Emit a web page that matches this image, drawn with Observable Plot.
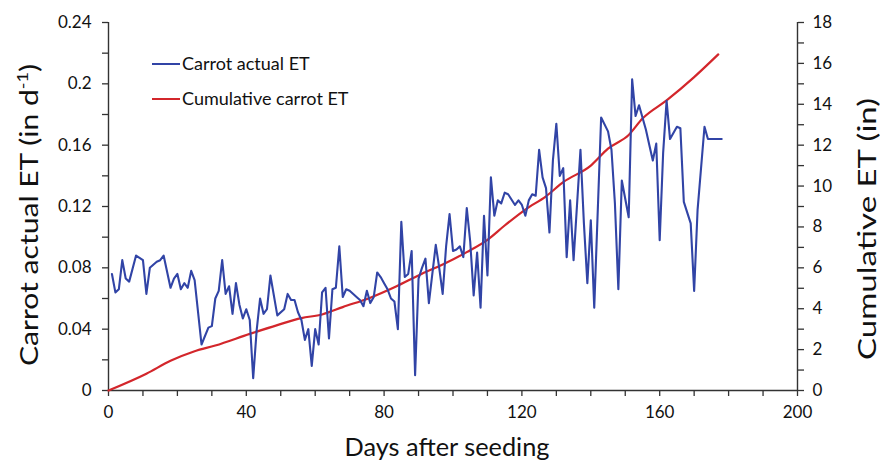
<!DOCTYPE html>
<html>
<head>
<meta charset="utf-8">
<script src="https://cdn.jsdelivr.net/npm/d3@7"></script>
<script src="https://cdn.jsdelivr.net/npm/@observablehq/plot@0.6"></script>
<style>
  html, body { margin: 0; padding: 0; background: #fff; }
  #chart svg { display: block; }
</style>
</head>
<body>
<div id="chart"></div>
<script>
// Daily carrot actual ET (in/day)
const etDays = [
  1, 2, 3, 4, 5, 6, 8, 10, 11, 12,
  14, 15, 16, 18, 19, 20, 21, 22, 23, 24,
  25, 27, 29, 30, 31, 32, 33, 34, 35, 36,
  37, 38, 39, 40, 41, 42, 43, 44, 45, 46,
  47, 49, 51, 52, 53, 54, 55, 56, 57, 58,
  59, 60, 61, 62, 63, 64, 65, 66, 67, 68,
  69, 70, 72, 73, 74, 75, 76, 77, 78, 79,
  80, 81, 82, 83, 84, 85, 86, 87, 88, 89,
  90, 91, 92, 93, 94, 95, 96, 97, 98, 99,
  100, 101, 102, 103, 104, 105, 106, 107, 108, 109,
  110, 111, 112, 113, 114, 115, 116, 118, 119, 120,
  121, 122, 123, 124, 125, 126, 127, 128, 129, 130,
  131, 132, 133, 134, 135, 137, 138, 139, 140, 141,
  143, 145, 146, 147, 148, 149, 151, 152, 153, 154,
  156, 157, 158, 159, 160, 161, 162, 163, 165, 166,
  167, 169, 170, 171, 173, 174, 178
];
const etValues = [
  0.076, 0.064, 0.066, 0.085, 0.073, 0.071, 0.088, 0.085, 0.063, 0.080,
  0.084, 0.085, 0.088, 0.067, 0.073, 0.076, 0.066, 0.070, 0.067, 0.078,
  0.072, 0.030, 0.041, 0.042, 0.060, 0.065, 0.085, 0.063, 0.068, 0.050,
  0.070, 0.056, 0.047, 0.053, 0.046, 0.008, 0.039, 0.060, 0.050, 0.053,
  0.075, 0.049, 0.053, 0.063, 0.059, 0.059, 0.051, 0.046, 0.033, 0.040,
  0.016, 0.040, 0.030, 0.064, 0.067, 0.034, 0.066, 0.067, 0.094, 0.061,
  0.066, 0.065, 0.061, 0.059, 0.055, 0.065, 0.057, 0.061, 0.077, 0.074,
  0.070, 0.066, 0.060, 0.058, 0.040, 0.110, 0.074, 0.076, 0.091, 0.010,
  0.073, 0.080, 0.086, 0.057, 0.076, 0.095, 0.080, 0.063, 0.094, 0.115,
  0.091, 0.092, 0.094, 0.087, 0.119, 0.097, 0.062, 0.090, 0.054, 0.114,
  0.075, 0.139, 0.114, 0.124, 0.122, 0.129, 0.128, 0.121, 0.124, 0.121,
  0.114, 0.124, 0.128, 0.127, 0.157, 0.139, 0.132, 0.103, 0.150, 0.174,
  0.140, 0.145, 0.087, 0.124, 0.085, 0.157, 0.109, 0.070, 0.111, 0.054,
  0.178, 0.169, 0.157, 0.122, 0.066, 0.137, 0.113, 0.203, 0.179, 0.186,
  0.170, 0.160, 0.150, 0.161, 0.098, 0.155, 0.189, 0.164, 0.172, 0.171,
  0.123, 0.109, 0.065, 0.118, 0.172, 0.164, 0.164
];

// Cumulative carrot ET (in)
const cumDays = [0, 11, 18, 25, 31, 41, 49, 56, 62, 68, 76, 83, 91, 97, 104, 110, 115, 121, 127, 132, 140, 145, 151, 155, 162, 170, 177];
const cumValues = [0, 0.82, 1.45, 1.92, 2.2, 2.77, 3.2, 3.54, 3.72, 4.08, 4.54, 5.05, 5.71, 6.16, 6.77, 7.37, 8.07, 8.85, 9.5, 10.19, 11.0, 11.83, 12.5, 13.3, 14.19, 15.33, 16.44];

// Axis definitions
const xTicks = d3.range(0, 21).map(i => i * 10);
const leftTickCount = 12;   // 0 .. 0.24 step 0.02
const leftMax = 0.24;
const rightMax = 18;        // cumulative axis 0 .. 18

const seriesLabels = ["Carrot actual ET", "Cumulative carrot ET"];
const seriesColors = ["#3144a6", "#d3262b"];

const et = etDays.map((d, i) => ({day: d, value: etValues[i]}));
const cum = cumDays.map((d, i) => ({day: d, value: cumValues[i]}));
const k = leftMax / rightMax; // right -> left scale factor

const leftTicks = d3.range(0, leftTickCount + 1).map(i => i * leftMax / leftTickCount);
const rightTicks = d3.range(0, rightMax + 1).map(i => i * k);

const axisColor = "#333";
const textColor = "#111";
const font = "Lato, 'Open Sans', sans-serif";

const chart = Plot.plot({
  width: 880,
  height: 461,
  marginLeft: 108,
  marginRight: 83,
  marginTop: 22,
  marginBottom: 71,
  style: {fontFamily: font, fontSize: "17px", color: textColor, background: "#fff"},
  x: {domain: [0, 200]},
  y: {domain: [0, leftMax]},
  marks: [
    Plot.axisX({
      ticks: xTicks, tickSize: 6, tickPadding: 9, stroke: axisColor, strokeWidth: 1.3,
      tickFormat: d => (d % 40 === 0 ? String(d) : ""), label: null, fontSize: 17
    }),
    Plot.axisY({
      ticks: leftTicks, tickSize: 6, tickPadding: 11, stroke: axisColor, strokeWidth: 1.3,
      tickFormat: d => { const i = Math.round(d / 0.02); return i % 2 === 0 ? String(+(i * 0.02).toFixed(2)) : ""; },
      label: null, fontSize: 17
    }),
    Plot.axisY({
      anchor: "right", ticks: rightTicks, tickSize: 6, tickPadding: 9, stroke: axisColor, strokeWidth: 1.3,
      tickFormat: d => { const i = Math.round(d / k); return i % 2 === 0 ? String(i) : ""; },
      label: null, fontSize: 17
    }),
    Plot.ruleY([0], {stroke: axisColor, strokeWidth: 1.6}),
    Plot.ruleX([0, 200], {stroke: axisColor, strokeWidth: 1.4}),
    Plot.lineY(cum, {x: "day", y: d => d.value * k, stroke: seriesColors[1], strokeWidth: 2.2, curve: "monotone-x"}),
    Plot.lineY(et, {x: "day", y: "value", stroke: seriesColors[0], strokeWidth: 2.1})
  ]
});

document.getElementById("chart").appendChild(chart);

// Titles and legend
const svg = d3.select(chart);

svg.append("text")
  .attr("x", 447).attr("y", 456)
  .attr("text-anchor", "middle")
  .attr("font-family", font).attr("font-size", 25).attr("fill", textColor)
  .attr("textLength", 205).attr("lengthAdjust", "spacingAndGlyphs")
  .text("Days after seeding");

const lt = svg.append("text")
  .attr("transform", "translate(38,215) rotate(-90)")
  .attr("text-anchor", "middle")
  .attr("font-family", font).attr("font-size", 25).attr("fill", textColor)
  .attr("textLength", 302).attr("lengthAdjust", "spacingAndGlyphs");
lt.append("tspan").text("Carrot actual ET (in d");
lt.append("tspan").attr("font-size", 15).attr("dy", -10).text("-1");
lt.append("tspan").attr("dy", 10).text(")");

svg.append("text")
  .attr("transform", "translate(876,229) rotate(-90)")
  .attr("text-anchor", "middle")
  .attr("font-family", font).attr("font-size", 25).attr("fill", textColor)
  .attr("textLength", 262).attr("lengthAdjust", "spacingAndGlyphs")
  .text("Cumulative ET (in)");

seriesLabels.forEach((lab, i) => {
  const y = 64 + i * 35;
  svg.append("line").attr("x1", 152).attr("x2", 180).attr("y1", y).attr("y2", y)
    .attr("stroke", seriesColors[i]).attr("stroke-width", 2);
  svg.append("text").attr("x", 182).attr("y", y).attr("dy", "0.35em")
    .attr("text-anchor", "start")
    .attr("font-family", font).attr("font-size", 18).attr("fill", textColor)
    .text(lab);
});
</script>
</body>
</html>
